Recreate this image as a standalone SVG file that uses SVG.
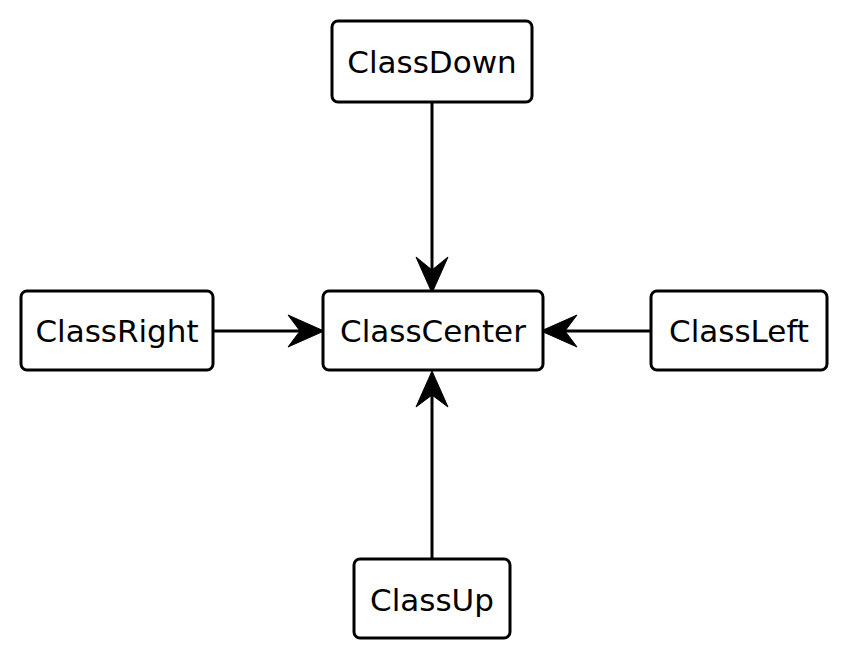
<svg xmlns="http://www.w3.org/2000/svg" width="845" height="655" viewBox="0 0 845 655">
<style>
.box{fill:#fff;stroke:#000;stroke-width:3}
.lbl{font-family:"DejaVu Sans",sans-serif;font-size:31px;fill:#000;text-anchor:middle}
.ln{stroke:#000;stroke-width:3;fill:none}
.hd{fill:#000;stroke:#000;stroke-width:1}
</style>
<rect width="845" height="655" fill="#fff"/>
<g id="connectors">
<line class="ln" x1="432" y1="102" x2="432" y2="270"/>
<path class="hd" d="M432,293 L416,257 L432,270 L448,257 Z"/>
<line class="ln" x1="213" y1="331" x2="300" y2="331"/>
<path class="hd" d="M324,331 L288,315 L300,331 L288,347 Z"/>
<line class="ln" x1="651" y1="331" x2="565" y2="331"/>
<path class="hd" d="M541,331 L577,315 L565,331 L577,347 Z"/>
<line class="ln" x1="432" y1="559" x2="432" y2="395"/>
<path class="hd" d="M432,371 L416,407 L432,395 L448,407 Z"/>
</g>
<g id="ClassDown">
<rect class="box" x="332" y="21" width="200" height="81" rx="6"/>
<text class="lbl" x="432" y="73">ClassDown</text>
</g>
<g id="ClassCenter">
<rect class="box" x="323" y="291" width="220" height="79" rx="6"/>
<text class="lbl" x="433" y="342">ClassCenter</text>
</g>
<g id="ClassRight">
<rect class="box" x="21" y="291" width="192" height="79" rx="6"/>
<text class="lbl" x="117" y="342">ClassRight</text>
</g>
<g id="ClassLeft">
<rect class="box" x="651" y="291" width="176" height="79" rx="6"/>
<text class="lbl" x="739" y="342">ClassLeft</text>
</g>
<g id="ClassUp">
<rect class="box" x="354" y="559" width="156" height="79" rx="6"/>
<text class="lbl" x="432" y="611">ClassUp</text>
</g>
</svg>
